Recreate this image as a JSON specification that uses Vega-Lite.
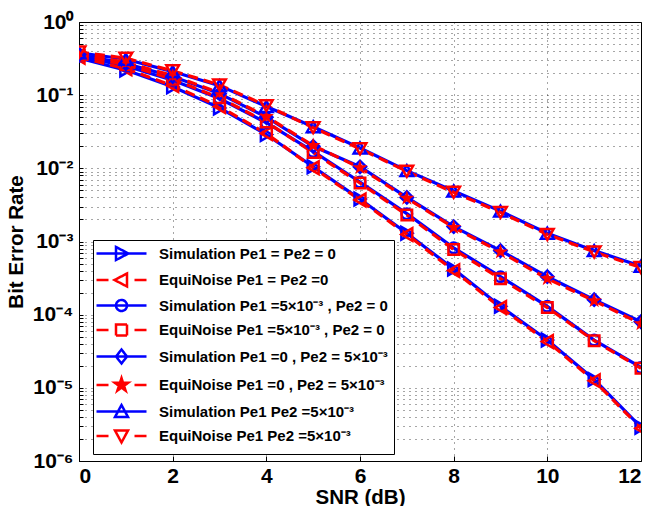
{
  "$schema": "https://vega.github.io/schema/vega-lite/v6.json",
  "width": 562,
  "height": 439,
  "autosize": {"type": "none"},
  "padding": {"left": 79, "top": 22, "right": 11, "bottom": 45},
  "background": "white",
  "config": {
    "view": {"stroke": "#000", "strokeWidth": 1},
    "font": "Liberation Sans",
    "legend": {
      "orient": "none",
      "legendX": 14,
      "legendY": 218,
      "direction": "vertical",
      "fillColor": "#ffffff",
      "strokeColor": "#000000",
      "padding": 6,
      "rowPadding": 3.5,
      "symbolSize": 100,
      "symbolStrokeWidth": 2.5,
      "symbolOffset": 15,
      "labelOffset": 30,
      "labelFontSize": 15,
      "labelFontWeight": "bold",
      "labelColor": "#000",
      "labelLimit": 400
    }
  },
  "data": {
    "values": [
      {"series": "Simulation Pe1 = Pe2 = 0", "snr": 0, "ber": 0.32},
      {"series": "Simulation Pe1 = Pe2 = 0", "snr": 1, "ber": 0.22},
      {"series": "Simulation Pe1 = Pe2 = 0", "snr": 2, "ber": 0.13},
      {"series": "Simulation Pe1 = Pe2 = 0", "snr": 3, "ber": 0.067},
      {"series": "Simulation Pe1 = Pe2 = 0", "snr": 4, "ber": 0.029},
      {"series": "Simulation Pe1 = Pe2 = 0", "snr": 5, "ber": 0.0105},
      {"series": "Simulation Pe1 = Pe2 = 0", "snr": 6, "ber": 0.0038},
      {"series": "Simulation Pe1 = Pe2 = 0", "snr": 7, "ber": 0.0013},
      {"series": "Simulation Pe1 = Pe2 = 0", "snr": 8, "ber": 0.00042},
      {"series": "Simulation Pe1 = Pe2 = 0", "snr": 9, "ber": 0.00013},
      {"series": "Simulation Pe1 = Pe2 = 0", "snr": 10, "ber": 0.000045},
      {"series": "Simulation Pe1 = Pe2 = 0", "snr": 11, "ber": 0.000013},
      {"series": "Simulation Pe1 = Pe2 = 0", "snr": 12, "ber": 0.0000029},
      {"series": "EquiNoise Pe1 = Pe2 =0", "snr": 0, "ber": 0.33},
      {"series": "EquiNoise Pe1 = Pe2 =0", "snr": 1, "ber": 0.23},
      {"series": "EquiNoise Pe1 = Pe2 =0", "snr": 2, "ber": 0.135},
      {"series": "EquiNoise Pe1 = Pe2 =0", "snr": 3, "ber": 0.07},
      {"series": "EquiNoise Pe1 = Pe2 =0", "snr": 4, "ber": 0.03},
      {"series": "EquiNoise Pe1 = Pe2 =0", "snr": 5, "ber": 0.0102},
      {"series": "EquiNoise Pe1 = Pe2 =0", "snr": 6, "ber": 0.0037},
      {"series": "EquiNoise Pe1 = Pe2 =0", "snr": 7, "ber": 0.00125},
      {"series": "EquiNoise Pe1 = Pe2 =0", "snr": 8, "ber": 0.0004},
      {"series": "EquiNoise Pe1 = Pe2 =0", "snr": 9, "ber": 0.000125},
      {"series": "EquiNoise Pe1 = Pe2 =0", "snr": 10, "ber": 0.000043},
      {"series": "EquiNoise Pe1 = Pe2 =0", "snr": 11, "ber": 0.0000125},
      {"series": "EquiNoise Pe1 = Pe2 =0", "snr": 12, "ber": 0.0000028},
      {"series": "Simulation Pe1 =5×10⁻³ , Pe2 = 0", "snr": 0, "ber": 0.34},
      {"series": "Simulation Pe1 =5×10⁻³ , Pe2 = 0", "snr": 1, "ber": 0.25},
      {"series": "Simulation Pe1 =5×10⁻³ , Pe2 = 0", "snr": 2, "ber": 0.16},
      {"series": "Simulation Pe1 =5×10⁻³ , Pe2 = 0", "snr": 3, "ber": 0.09},
      {"series": "Simulation Pe1 =5×10⁻³ , Pe2 = 0", "snr": 4, "ber": 0.042},
      {"series": "Simulation Pe1 =5×10⁻³ , Pe2 = 0", "snr": 5, "ber": 0.017},
      {"series": "Simulation Pe1 =5×10⁻³ , Pe2 = 0", "snr": 6, "ber": 0.0065},
      {"series": "Simulation Pe1 =5×10⁻³ , Pe2 = 0", "snr": 7, "ber": 0.0024},
      {"series": "Simulation Pe1 =5×10⁻³ , Pe2 = 0", "snr": 8, "ber": 0.00082},
      {"series": "Simulation Pe1 =5×10⁻³ , Pe2 = 0", "snr": 9, "ber": 0.00033},
      {"series": "Simulation Pe1 =5×10⁻³ , Pe2 = 0", "snr": 10, "ber": 0.00013},
      {"series": "Simulation Pe1 =5×10⁻³ , Pe2 = 0", "snr": 11, "ber": 0.000045},
      {"series": "Simulation Pe1 =5×10⁻³ , Pe2 = 0", "snr": 12, "ber": 0.000019},
      {"series": "EquiNoise Pe1 =5×10⁻³ , Pe2 = 0", "snr": 0, "ber": 0.35},
      {"series": "EquiNoise Pe1 =5×10⁻³ , Pe2 = 0", "snr": 1, "ber": 0.26},
      {"series": "EquiNoise Pe1 =5×10⁻³ , Pe2 = 0", "snr": 2, "ber": 0.165},
      {"series": "EquiNoise Pe1 =5×10⁻³ , Pe2 = 0", "snr": 3, "ber": 0.092},
      {"series": "EquiNoise Pe1 =5×10⁻³ , Pe2 = 0", "snr": 4, "ber": 0.043},
      {"series": "EquiNoise Pe1 =5×10⁻³ , Pe2 = 0", "snr": 5, "ber": 0.0165},
      {"series": "EquiNoise Pe1 =5×10⁻³ , Pe2 = 0", "snr": 6, "ber": 0.0063},
      {"series": "EquiNoise Pe1 =5×10⁻³ , Pe2 = 0", "snr": 7, "ber": 0.0023},
      {"series": "EquiNoise Pe1 =5×10⁻³ , Pe2 = 0", "snr": 8, "ber": 0.00078},
      {"series": "EquiNoise Pe1 =5×10⁻³ , Pe2 = 0", "snr": 9, "ber": 0.00031},
      {"series": "EquiNoise Pe1 =5×10⁻³ , Pe2 = 0", "snr": 10, "ber": 0.000125},
      {"series": "EquiNoise Pe1 =5×10⁻³ , Pe2 = 0", "snr": 11, "ber": 0.000044},
      {"series": "EquiNoise Pe1 =5×10⁻³ , Pe2 = 0", "snr": 12, "ber": 0.0000185},
      {"series": "Simulation Pe1 =0 , Pe2 = 5×10⁻³", "snr": 0, "ber": 0.36},
      {"series": "Simulation Pe1 =0 , Pe2 = 5×10⁻³", "snr": 1, "ber": 0.27},
      {"series": "Simulation Pe1 =0 , Pe2 = 5×10⁻³", "snr": 2, "ber": 0.18},
      {"series": "Simulation Pe1 =0 , Pe2 = 5×10⁻³", "snr": 3, "ber": 0.105},
      {"series": "Simulation Pe1 =0 , Pe2 = 5×10⁻³", "snr": 4, "ber": 0.05},
      {"series": "Simulation Pe1 =0 , Pe2 = 5×10⁻³", "snr": 5, "ber": 0.02},
      {"series": "Simulation Pe1 =0 , Pe2 = 5×10⁻³", "snr": 6, "ber": 0.0105},
      {"series": "Simulation Pe1 =0 , Pe2 = 5×10⁻³", "snr": 7, "ber": 0.004},
      {"series": "Simulation Pe1 =0 , Pe2 = 5×10⁻³", "snr": 8, "ber": 0.0016},
      {"series": "Simulation Pe1 =0 , Pe2 = 5×10⁻³", "snr": 9, "ber": 0.00075},
      {"series": "Simulation Pe1 =0 , Pe2 = 5×10⁻³", "snr": 10, "ber": 0.00033},
      {"series": "Simulation Pe1 =0 , Pe2 = 5×10⁻³", "snr": 11, "ber": 0.00016},
      {"series": "Simulation Pe1 =0 , Pe2 = 5×10⁻³", "snr": 12, "ber": 0.00008},
      {"series": "EquiNoise Pe1 =0 , Pe2 = 5×10⁻³", "snr": 0, "ber": 0.37},
      {"series": "EquiNoise Pe1 =0 , Pe2 = 5×10⁻³", "snr": 1, "ber": 0.28},
      {"series": "EquiNoise Pe1 =0 , Pe2 = 5×10⁻³", "snr": 2, "ber": 0.185},
      {"series": "EquiNoise Pe1 =0 , Pe2 = 5×10⁻³", "snr": 3, "ber": 0.108},
      {"series": "EquiNoise Pe1 =0 , Pe2 = 5×10⁻³", "snr": 4, "ber": 0.051},
      {"series": "EquiNoise Pe1 =0 , Pe2 = 5×10⁻³", "snr": 5, "ber": 0.0205},
      {"series": "EquiNoise Pe1 =0 , Pe2 = 5×10⁻³", "snr": 6, "ber": 0.0102},
      {"series": "EquiNoise Pe1 =0 , Pe2 = 5×10⁻³", "snr": 7, "ber": 0.0039},
      {"series": "EquiNoise Pe1 =0 , Pe2 = 5×10⁻³", "snr": 8, "ber": 0.00155},
      {"series": "EquiNoise Pe1 =0 , Pe2 = 5×10⁻³", "snr": 9, "ber": 0.00072},
      {"series": "EquiNoise Pe1 =0 , Pe2 = 5×10⁻³", "snr": 10, "ber": 0.00031},
      {"series": "EquiNoise Pe1 =0 , Pe2 = 5×10⁻³", "snr": 11, "ber": 0.000155},
      {"series": "EquiNoise Pe1 =0 , Pe2 = 5×10⁻³", "snr": 12, "ber": 0.000075},
      {"series": "Simulation Pe1 Pe2 =5×10⁻³", "snr": 0, "ber": 0.38},
      {"series": "Simulation Pe1 Pe2 =5×10⁻³", "snr": 1, "ber": 0.31},
      {"series": "Simulation Pe1 Pe2 =5×10⁻³", "snr": 2, "ber": 0.21},
      {"series": "Simulation Pe1 Pe2 =5×10⁻³", "snr": 3, "ber": 0.135},
      {"series": "Simulation Pe1 Pe2 =5×10⁻³", "snr": 4, "ber": 0.07},
      {"series": "Simulation Pe1 Pe2 =5×10⁻³", "snr": 5, "ber": 0.037},
      {"series": "Simulation Pe1 Pe2 =5×10⁻³", "snr": 6, "ber": 0.019},
      {"series": "Simulation Pe1 Pe2 =5×10⁻³", "snr": 7, "ber": 0.0093},
      {"series": "Simulation Pe1 Pe2 =5×10⁻³", "snr": 8, "ber": 0.0049},
      {"series": "Simulation Pe1 Pe2 =5×10⁻³", "snr": 9, "ber": 0.0026},
      {"series": "Simulation Pe1 Pe2 =5×10⁻³", "snr": 10, "ber": 0.0013},
      {"series": "Simulation Pe1 Pe2 =5×10⁻³", "snr": 11, "ber": 0.00075},
      {"series": "Simulation Pe1 Pe2 =5×10⁻³", "snr": 12, "ber": 0.00046},
      {"series": "EquiNoise  Pe1 Pe2 =5×10⁻³", "snr": 0, "ber": 0.39},
      {"series": "EquiNoise  Pe1 Pe2 =5×10⁻³", "snr": 1, "ber": 0.32},
      {"series": "EquiNoise  Pe1 Pe2 =5×10⁻³", "snr": 2, "ber": 0.215},
      {"series": "EquiNoise  Pe1 Pe2 =5×10⁻³", "snr": 3, "ber": 0.138},
      {"series": "EquiNoise  Pe1 Pe2 =5×10⁻³", "snr": 4, "ber": 0.072},
      {"series": "EquiNoise  Pe1 Pe2 =5×10⁻³", "snr": 5, "ber": 0.036},
      {"series": "EquiNoise  Pe1 Pe2 =5×10⁻³", "snr": 6, "ber": 0.0185},
      {"series": "EquiNoise  Pe1 Pe2 =5×10⁻³", "snr": 7, "ber": 0.0091},
      {"series": "EquiNoise  Pe1 Pe2 =5×10⁻³", "snr": 8, "ber": 0.0047},
      {"series": "EquiNoise  Pe1 Pe2 =5×10⁻³", "snr": 9, "ber": 0.0025},
      {"series": "EquiNoise  Pe1 Pe2 =5×10⁻³", "snr": 10, "ber": 0.00125},
      {"series": "EquiNoise  Pe1 Pe2 =5×10⁻³", "snr": 11, "ber": 0.00072},
      {"series": "EquiNoise  Pe1 Pe2 =5×10⁻³", "snr": 12, "ber": 0.00044}
    ]
  },
  "encoding": {
    "x": {
      "field": "snr",
      "type": "quantitative",
      "scale": {"domain": [0, 12], "nice": false},
      "axis": {
        "values": [0, 2, 4, 6, 8, 10, 12],
        "title": "SNR (dB)",
        "grid": true,
        "gridDash": [1, 5],
        "gridColor": "#000",
        "gridOpacity": 0.7,
        "domain": false,
        "tickSize": -5,
        "tickColor": "#000",
        "labelPadding": 9,
        "labelFontSize": 21,
        "labelFontWeight": "bold",
        "labelColor": "#000",
        "titleFontSize": 20.5,
        "titleFontWeight": "bold",
        "titleColor": "#000",
        "titlePadding": 1
      }
    },
    "y": {
      "field": "ber",
      "type": "quantitative",
      "scale": {"type": "log", "domain": [0.000001, 1], "nice": false},
      "axis": {
        "values": [0.000001, 0.000002, 0.000003, 0.000004, 0.000005, 0.000006, 0.000007, 0.000008, 0.000009,
                   0.00001, 0.00002, 0.00003, 0.00004, 0.00005, 0.00006, 0.00007, 0.00008, 0.00009,
                   0.0001, 0.0002, 0.0003, 0.0004, 0.0005, 0.0006, 0.0007, 0.0008, 0.0009,
                   0.001, 0.002, 0.003, 0.004, 0.005, 0.006, 0.007, 0.008, 0.009,
                   0.01, 0.02, 0.03, 0.04, 0.05, 0.06, 0.07, 0.08, 0.09,
                   0.1, 0.2, 0.3, 0.4, 0.5, 0.6, 0.7, 0.8, 0.9, 1],
        "labelExpr": "abs(log(datum.value)/LN10 - round(log(datum.value)/LN10)) < 0.000001 ? ['10⁰','10⁻¹','10⁻²','10⁻³','10⁻⁴','10⁻⁵','10⁻⁶'][-round(log(datum.value)/LN10)] : ''",
        "labelOverlap": false,
        "title": "Bit Error Rate",
        "grid": true,
        "gridDash": [1, 5],
        "gridColor": "#000",
        "gridOpacity": 0.7,
        "domain": false,
        "tickSize": -4,
        "tickColor": "#000",
        "labelPadding": 10,
        "labelFontSize": 21,
        "labelFontWeight": "bold",
        "labelColor": "#000",
        "titleFontSize": 20.5,
        "titleFontWeight": "bold",
        "titleColor": "#000",
        "titlePadding": 6
      }
    }
  },
  "layer": [
    {
      "transform": [{"filter": "indexof(datum.series, 'Simulation') === 0"}],
      "mark": {"type": "line", "strokeWidth": 3.2, "clip": true},
      "encoding": {
        "color": {
          "field": "series",
          "type": "nominal",
          "scale": {
            "domain": ["Simulation Pe1 = Pe2 = 0", "EquiNoise Pe1 = Pe2 =0", "Simulation Pe1 =5×10⁻³ , Pe2 = 0", "EquiNoise Pe1 =5×10⁻³ , Pe2 = 0", "Simulation Pe1 =0 , Pe2 = 5×10⁻³", "EquiNoise Pe1 =0 , Pe2 = 5×10⁻³", "Simulation Pe1 Pe2 =5×10⁻³", "EquiNoise  Pe1 Pe2 =5×10⁻³"],
            "range": ["#0000ff", "#ff0000", "#0000ff", "#ff0000", "#0000ff", "#ff0000", "#0000ff", "#ff0000"]
          },
          "legend": {
            "title": null,
            "encode": {
              "symbols": {
                "update": {
                  "shape": {"signal": "['M-5,0L5,0M-1.1,-1.3L1.4,0L-1.1,1.3Z','M-5,0L-2.6,0M2.6,0L5,0M1.1,-1.3L-1.4,0L1.1,1.3Z','M-5,0L5,0M-1.1,0A1.1,1.1,0,1,0,1.1,0A1.1,1.1,0,1,0,-1.1,0Z','M-5,0L-2.6,0M2.6,0L5,0M-1.1,-1.1L1.1,-1.1L1.1,1.1L-1.1,1.1Z','M-5,0L5,0M0,-1.4L1.1,0L0,1.4L-1.1,0Z','M-5,0L-2.6,0M2.6,0L5,0M0,-1.4L0.314,-0.433L1.332,-0.433L0.509,0.165L0.823,1.133L0,0.535L-0.823,1.133L-0.509,0.165L-1.332,-0.433L-0.314,-0.433Z','M-5,0L5,0M0,-1.3L1.3,1.1L-1.3,1.1Z','M-5,0L-2.6,0M2.6,0L5,0M0,1.3L1.3,-1.1L-1.3,-1.1Z'][datum.index]"},
                  "fill": {"signal": "datum.index === 5 ? '#ff0000' : 'transparent'"},
                  "strokeDash": {"value": [1, 0]},
                  "strokeWidth": {"value": 2.5}
                }
              }
            }
          }
        }
      }
    },
    {
      "transform": [{"filter": "indexof(datum.series, 'EquiNoise') === 0"}],
      "mark": {"type": "line", "strokeWidth": 3.2, "strokeDash": [10, 6], "clip": true},
      "encoding": {
        "color": {
          "field": "series",
          "type": "nominal",
          "legend": {
            "title": null,
            "encode": {
              "symbols": {
                "update": {
                  "shape": {"signal": "['M-5,0L5,0M-1.1,-1.3L1.4,0L-1.1,1.3Z','M-5,0L-2.6,0M2.6,0L5,0M1.1,-1.3L-1.4,0L1.1,1.3Z','M-5,0L5,0M-1.1,0A1.1,1.1,0,1,0,1.1,0A1.1,1.1,0,1,0,-1.1,0Z','M-5,0L-2.6,0M2.6,0L5,0M-1.1,-1.1L1.1,-1.1L1.1,1.1L-1.1,1.1Z','M-5,0L5,0M0,-1.4L1.1,0L0,1.4L-1.1,0Z','M-5,0L-2.6,0M2.6,0L5,0M0,-1.4L0.314,-0.433L1.332,-0.433L0.509,0.165L0.823,1.133L0,0.535L-0.823,1.133L-0.509,0.165L-1.332,-0.433L-0.314,-0.433Z','M-5,0L5,0M0,-1.3L1.3,1.1L-1.3,1.1Z','M-5,0L-2.6,0M2.6,0L5,0M0,1.3L1.3,-1.1L-1.3,-1.1Z'][datum.index]"},
                  "fill": {"signal": "datum.index === 5 ? '#ff0000' : 'transparent'"},
                  "strokeDash": {"value": [1, 0]},
                  "strokeWidth": {"value": 2.5}
                }
              }
            }
          }
        }
      }
    },
    {
      "transform": [{"filter": {"field": "series", "equal": "Simulation Pe1 = Pe2 = 0"}}],
      "mark": {"type": "point", "shape": "triangle-right", "filled": false, "color": "#0000ff", "size": 160, "strokeWidth": 2.5, "opacity": 1, "clip": true}
    },
    {
      "transform": [{"filter": {"field": "series", "equal": "EquiNoise Pe1 = Pe2 =0"}}],
      "mark": {"type": "point", "shape": "triangle-left", "filled": false, "color": "#ff0000", "size": 160, "strokeWidth": 2.5, "opacity": 1, "clip": true}
    },
    {
      "transform": [{"filter": {"field": "series", "equal": "Simulation Pe1 =5×10⁻³ , Pe2 = 0"}}],
      "mark": {"type": "point", "shape": "circle", "filled": false, "color": "#0000ff", "size": 110, "strokeWidth": 2.5, "opacity": 1, "clip": true}
    },
    {
      "transform": [{"filter": {"field": "series", "equal": "EquiNoise Pe1 =5×10⁻³ , Pe2 = 0"}}],
      "mark": {"type": "point", "shape": "square", "filled": false, "color": "#ff0000", "size": 110, "strokeWidth": 2.5, "opacity": 1, "clip": true}
    },
    {
      "transform": [{"filter": {"field": "series", "equal": "Simulation Pe1 =0 , Pe2 = 5×10⁻³"}}],
      "mark": {"type": "point", "shape": "diamond", "filled": false, "color": "#0000ff", "size": 150, "strokeWidth": 2.5, "opacity": 1, "clip": true}
    },
    {
      "transform": [{"filter": {"field": "series", "equal": "EquiNoise Pe1 =0 , Pe2 = 5×10⁻³"}}],
      "mark": {"type": "point", "shape": "M0,-1L0.2245,-0.309L0.9511,-0.309L0.3633,0.118L0.5878,0.809L0,0.382L-0.5878,0.809L-0.3633,0.118L-0.9511,-0.309L-0.2245,-0.309Z", "filled": true, "color": "#ff0000", "size": 260, "opacity": 1, "clip": true}
    },
    {
      "transform": [{"filter": {"field": "series", "equal": "Simulation Pe1 Pe2 =5×10⁻³"}}],
      "mark": {"type": "point", "shape": "triangle-up", "filled": false, "color": "#0000ff", "size": 160, "strokeWidth": 2.5, "opacity": 1, "clip": true}
    },
    {
      "transform": [{"filter": {"field": "series", "equal": "EquiNoise  Pe1 Pe2 =5×10⁻³"}}],
      "mark": {"type": "point", "shape": "triangle-down", "filled": false, "color": "#ff0000", "size": 160, "strokeWidth": 2.5, "opacity": 1, "clip": true}
    }
  ]
}
